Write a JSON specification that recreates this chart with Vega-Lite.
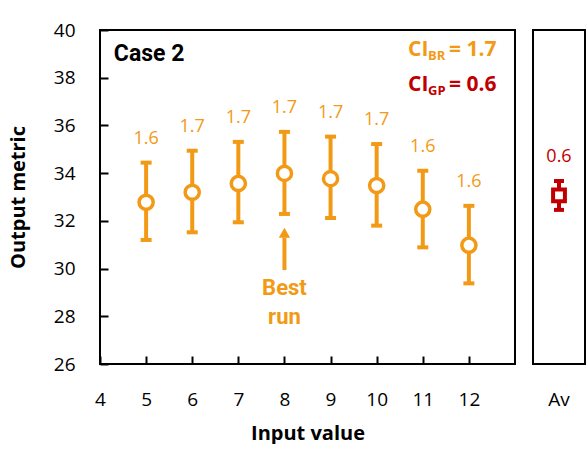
{
  "$schema": "https://vega.github.io/schema/vega-lite/v6.json",
  "padding": {"left": 7, "top": 20, "right": 0, "bottom": 0},
  "background": "white",
  "datasets": {
    "runs": [
      {"input": 5, "mean": 32.78, "low": 31.2, "high": 34.44, "ci": "1.6"},
      {"input": 6, "mean": 33.2, "low": 31.52, "high": 34.94, "ci": "1.7"},
      {"input": 7, "mean": 33.57, "low": 31.94, "high": 35.31, "ci": "1.7"},
      {"input": 8, "mean": 33.99, "low": 32.29, "high": 35.73, "ci": "1.7"},
      {"input": 9, "mean": 33.77, "low": 32.12, "high": 35.53, "ci": "1.7"},
      {"input": 10, "mean": 33.48, "low": 31.8, "high": 35.22, "ci": "1.7"},
      {"input": 11, "mean": 32.49, "low": 30.89, "high": 34.1, "ci": "1.6"},
      {"input": 12, "mean": 30.98, "low": 29.38, "high": 32.63, "ci": "1.6"}
    ],
    "avg": [
      {"group": "Av", "mean": 33.07, "low": 32.46, "high": 33.67, "ci": "0.6"}
    ]
  },
  "hconcat": [
    {
      "width": 415,
      "height": 334,
      "data": {"name": "runs"},
      "encoding": {
        "x": {
          "field": "input",
          "type": "quantitative",
          "scale": {"domain": [4, 13], "nice": false},
          "title": "Input value",
          "axis": {
            "values": [4, 5, 6, 7, 8, 9, 10, 11, 12],
            "grid": false,
            "domain": false,
            "offset": -8,
            "tickSize": 8,
            "tickWidth": 2,
            "tickColor": "black",
            "labelFlush": false,
            "labelPadding": 26,
            "labelFont": "Open Sans",
            "labelFontSize": 19,
            "labelColor": "black",
            "titleFont": "Open Sans",
            "titleFontSize": 20,
            "titleFontWeight": "bold",
            "titleColor": "black",
            "titlePadding": 14
          }
        },
        "y": {
          "field": "mean",
          "type": "quantitative",
          "scale": {"domain": [26, 40], "nice": false, "zero": false},
          "title": "Output metric",
          "axis": {
            "values": [26, 28, 30, 32, 34, 36, 38, 40],
            "grid": false,
            "domain": false,
            "offset": -8,
            "tickSize": 8,
            "tickWidth": 2,
            "tickColor": "black",
            "labelFlush": false,
            "labelPadding": 25,
            "labelFont": "Open Sans",
            "labelFontSize": 19,
            "labelColor": "black",
            "titleFont": "Open Sans",
            "titleFontSize": 20,
            "titleFontWeight": "bold",
            "titleColor": "black",
            "titlePadding": 25
          }
        }
      },
      "layer": [
        {
          "mark": {"type": "rule", "color": "#F29A16", "strokeWidth": 4},
          "encoding": {"y": {"field": "low", "type": "quantitative"}, "y2": {"field": "high"}}
        },
        {
          "mark": {"type": "tick", "orient": "horizontal", "color": "#F29A16", "size": 11, "thickness": 4, "opacity": 1},
          "encoding": {"y": {"field": "low", "type": "quantitative"}}
        },
        {
          "mark": {"type": "tick", "orient": "horizontal", "color": "#F29A16", "size": 11, "thickness": 4, "opacity": 1},
          "encoding": {"y": {"field": "high", "type": "quantitative"}}
        },
        {
          "mark": {"type": "point", "shape": "circle", "size": 200, "filled": true, "fill": "white", "stroke": "#F29A16", "strokeWidth": 3.5, "opacity": 1}
        },
        {
          "mark": {"type": "text", "color": "#F29A16", "font": "Open Sans", "fontSize": 18, "baseline": "middle", "dy": -24},
          "encoding": {"y": {"field": "high", "type": "quantitative"}, "text": {"field": "ci"}}
        },
        {
          "transform": [{"filter": "datum.input == 8"}],
          "mark": {"type": "rule", "color": "#F29A16", "strokeWidth": 4},
          "encoding": {"y": {"datum": 29.94}, "y2": {"datum": 31.3}}
        },
        {
          "transform": [{"filter": "datum.input == 8"}],
          "mark": {"type": "point", "shape": "triangle-up", "size": 130, "filled": true, "color": "#F29A16", "opacity": 1},
          "encoding": {"y": {"datum": 31.5}}
        },
        {
          "transform": [{"filter": "datum.input == 8"}],
          "mark": {"type": "text", "text": ["Best", "run"], "font": "Roboto", "fontWeight": "bold", "fontSize": 22, "color": "#F29A16", "align": "center", "baseline": "middle", "lineHeight": 29},
          "encoding": {"y": {"datum": 29.19}}
        },
        {
          "transform": [{"filter": "datum.input == 5"}],
          "mark": {"type": "text", "text": "Case 2", "font": "Roboto", "fontWeight": "bold", "fontSize": 23, "color": "black", "align": "left", "baseline": "middle"},
          "encoding": {"x": {"datum": 4.3}, "y": {"datum": 39.0}}
        },
        {
          "transform": [{"filter": "datum.input == 5"}],
          "encoding": {"x": {"datum": 10.68}, "y": {"datum": 39.16}},
          "layer": [
            {"mark": {"type": "text", "text": "CI", "font": "Open Sans", "fontWeight": "bold", "fontSize": 21, "color": "#F29A16", "align": "left", "baseline": "middle"}},
            {"mark": {"type": "text", "text": "BR", "font": "Open Sans", "fontWeight": "bold", "fontSize": 13, "color": "#F29A16", "align": "left", "baseline": "middle", "dx": 20, "dy": 6}},
            {"mark": {"type": "text", "text": "= 1.7", "font": "Open Sans", "fontWeight": "bold", "fontSize": 21, "color": "#F29A16", "align": "left", "baseline": "middle", "dx": 41}}
          ]
        },
        {
          "transform": [{"filter": "datum.input == 5"}],
          "encoding": {"x": {"datum": 10.68}, "y": {"datum": 37.7}},
          "layer": [
            {"mark": {"type": "text", "text": "CI", "font": "Open Sans", "fontWeight": "bold", "fontSize": 21, "color": "#C00000", "align": "left", "baseline": "middle"}},
            {"mark": {"type": "text", "text": "GP", "font": "Open Sans", "fontWeight": "bold", "fontSize": 13, "color": "#C00000", "align": "left", "baseline": "middle", "dx": 20, "dy": 6}},
            {"mark": {"type": "text", "text": "= 0.6", "font": "Open Sans", "fontWeight": "bold", "fontSize": 21, "color": "#C00000", "align": "left", "baseline": "middle", "dx": 41}}
          ]
        }
      ]
    },
    {
      "width": 52,
      "height": 334,
      "data": {"name": "avg"},
      "encoding": {
        "x": {
          "field": "group",
          "type": "nominal",
          "title": null,
          "axis": {
            "labelAngle": 0,
            "ticks": false,
            "domain": false,
            "grid": false,
            "labelPadding": 26,
            "labelFont": "Open Sans",
            "labelFontSize": 19,
            "labelColor": "black"
          }
        },
        "y": {
          "field": "mean",
          "type": "quantitative",
          "scale": {"domain": [26, 40], "nice": false, "zero": false},
          "axis": null
        }
      },
      "layer": [
        {
          "mark": {"type": "rule", "color": "#C00000", "strokeWidth": 4},
          "encoding": {"y": {"field": "low", "type": "quantitative"}, "y2": {"field": "high"}}
        },
        {
          "mark": {"type": "tick", "orient": "horizontal", "color": "#C00000", "size": 10, "thickness": 4, "opacity": 1},
          "encoding": {"y": {"field": "low", "type": "quantitative"}}
        },
        {
          "mark": {"type": "tick", "orient": "horizontal", "color": "#C00000", "size": 10, "thickness": 4, "opacity": 1},
          "encoding": {"y": {"field": "high", "type": "quantitative"}}
        },
        {
          "mark": {"type": "point", "shape": "square", "size": 140, "filled": true, "fill": "white", "stroke": "#C00000", "strokeWidth": 4, "opacity": 1}
        },
        {
          "mark": {"type": "text", "color": "#C00000", "font": "Open Sans", "fontSize": 18, "baseline": "middle", "dy": -24},
          "encoding": {"y": {"field": "high", "type": "quantitative"}, "text": {"field": "ci"}}
        }
      ]
    }
  ],
  "spacing": 16,
  "config": {
    "view": {"stroke": "black", "strokeWidth": 2},
    "font": "Open Sans"
  }
}
